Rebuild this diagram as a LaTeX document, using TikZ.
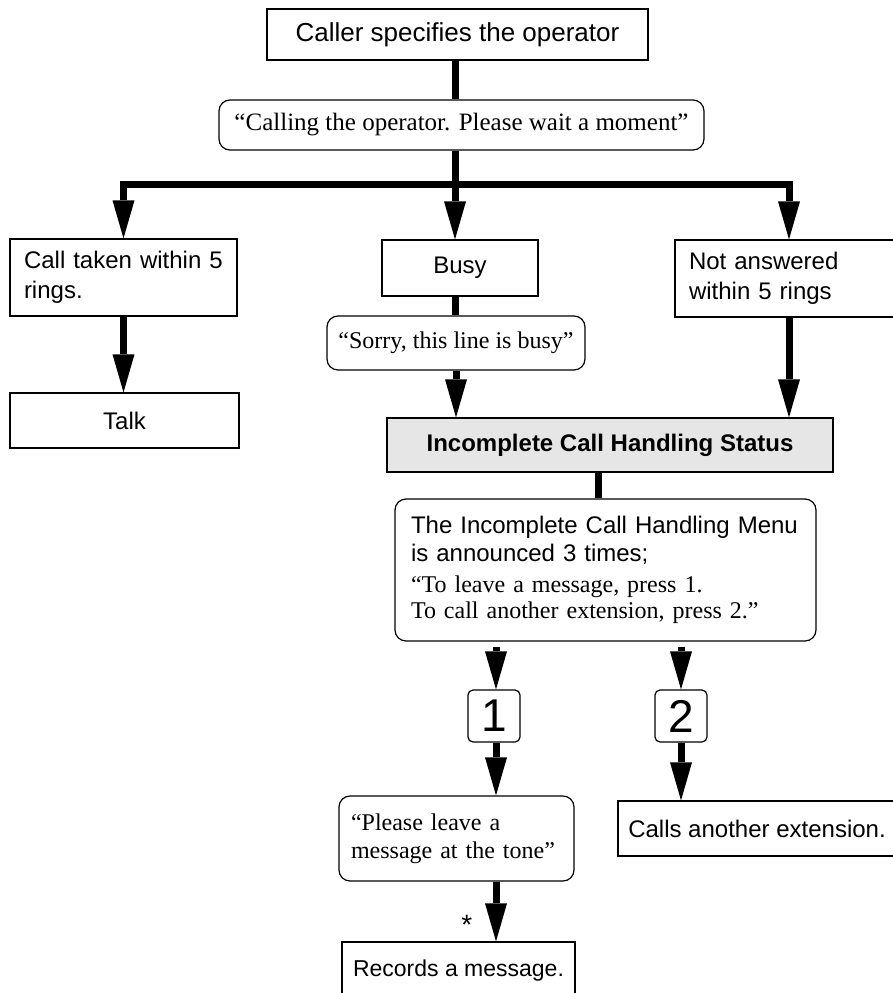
\documentclass[tikz,border=0pt]{standalone}
\usepackage{fontspec}
\setmainfont{Liberation Serif}
\setsansfont{Liberation Sans}
\usetikzlibrary{arrows.meta, positioning, calc}
\usepackage{xcolor}
\definecolor{statusgray}{HTML}{E6E6E6}

\begin{document}
\begin{tikzpicture}[
  x=1pt, y=-1pt,
  box/.style={draw, line width=1.2pt, inner sep=0pt, align=center, font=\sffamily\fontsize{24}{30}\selectfont},
  msg/.style={box, rounded corners=11pt, font=\rmfamily\fontsize{24}{28}\selectfont},
  keybox/.style={box, rounded corners=5pt, minimum width=52pt, minimum height=52pt, font=\sffamily\fontsize{46}{46}\selectfont},
  arrow/.style={-{Triangle[width=22pt, length=38pt, line width=0pt]}, line width=7pt},
  stem/.style={line width=7pt}
]
\useasboundingbox (0,0) rectangle (892,993);

% Call comes in
\node[box, minimum width=381pt, minimum height=51pt, font=\sffamily\fontsize{26}{30}\selectfont] (caller) at (457.5, 34.5) {Caller specifies the operator};
\node[msg, minimum width=485pt, minimum height=50pt, font=\rmfamily\fontsize{25}{28}\selectfont] (calling) at (461.5, 125) {“Calling the operator. Please wait a moment”};
\coordinate (fork) at (455, 184);

% Three outcomes
\node[box, text width=199pt, inner xsep=14pt, align=left, minimum height=77pt] (taken) at (123.5, 277.5) {Call taken within 5\\rings.};
\node[box, minimum width=156pt, minimum height=56pt] (busy) at (460, 268) {Busy};
\node[box, text width=200pt, inner xsep=14pt, align=left, minimum height=77pt] (noans) at (789, 278.5) {Not answered\\within 5 rings};
\node[msg, minimum width=258pt, minimum height=54pt] (sorry) at (456, 343) {“Sorry, this line is busy”};
\node[box, minimum width=229pt, minimum height=55pt] (talk) at (124.5, 420.5) {Talk};

% Incomplete call handling
\node[box, fill=statusgray, minimum width=446pt, minimum height=54pt, font=\sffamily\bfseries\fontsize{24}{28}\selectfont] (status) at (610, 445) {Incomplete Call Handling Status};
\node[msg, text width=389pt, inner xsep=16pt, align=left, minimum height=142pt, font=\sffamily\fontsize{24}{28}\selectfont] (menu) at (605.5, 570)
  {The Incomplete Call Handling Menu\\is announced 3 times;\\[3pt]\rmfamily “To leave a message, press 1.\\[-2pt]To call another extension, press 2.”};

% Keys
\node[keybox] (key1) at (494, 716) {1};
\node[keybox] (key2) at (681, 716) {2};
\node[msg, text width=211pt, inner xsep=12pt, align=left, minimum height=85pt] (leave) at (456.5, 838.5) {“Please leave a\\message at the tone”};
\node[box, minimum width=278pt, minimum height=55pt] (calls) at (757, 828.5) {Calls another extension.};
\node[box, minimum width=233pt, minimum height=58pt, font=\sffamily\fontsize{23}{27}\selectfont] (rec) at (458.5, 971) {Records a message.};

% Connectors
\draw[stem] (caller.south -| fork) -- (calling.north -| fork);
\draw[stem] (calling.south -| fork) -- (fork);
\draw[arrow] (fork) -| (taken.north);
\draw[arrow] (fork) -- (busy.north -| fork);
\draw[arrow] (fork) -| (noans.north);
\draw[stem] (busy.south -| fork) -- (sorry.north -| fork);
\draw[arrow] (sorry.south) -- (sorry.south |- status.north);
\draw[arrow] (noans.south) -- (noans.south |- status.north);
\draw[arrow] (taken.south) -- (taken.south |- talk.north);
\draw[stem] ([xshift=-12pt]status.south) -- ([xshift=-12pt]status.south |- menu.north);
\draw[arrow, shorten <=5pt] ([xshift=2pt]menu.south -| key1.north) -- ([xshift=2pt]key1.north);
\draw[arrow, shorten <=5pt] (menu.south -| key2.north) -- (key2.north);
\draw[arrow] ([xshift=2pt]key1.south) -- ([xshift=2pt]key1.south |- leave.north);
\draw[arrow] (key2.south) -- (key2.south |- calls.north);
\draw[arrow] ([xshift=2pt]leave.south -| key1.south) -- node[pos=0.72, left=17pt, font=\sffamily\fontsize{28}{30}\selectfont] (star) {*} ([xshift=2pt]rec.north -| key1.south);
\end{tikzpicture}
\end{document}
